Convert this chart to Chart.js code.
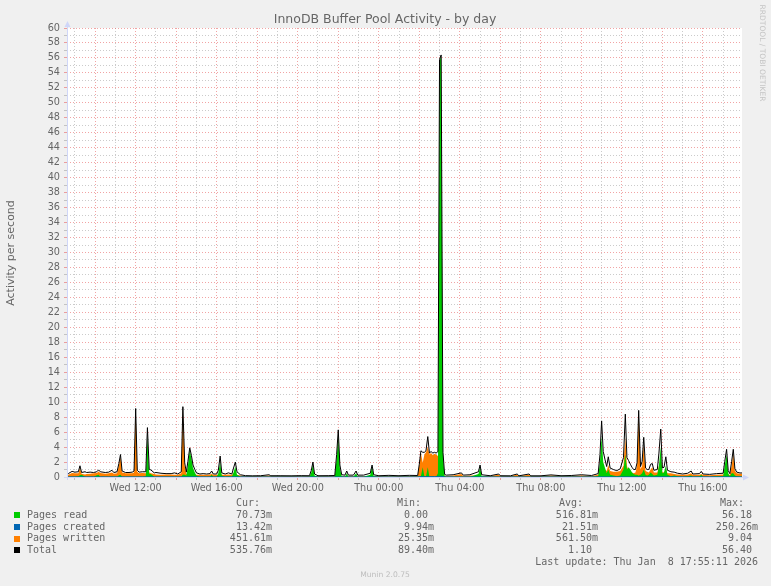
<!DOCTYPE html>
<html><head><meta charset="utf-8">
<script src="https://cdn.jsdelivr.net/npm/chart.js@4/dist/chart.umd.min.js"></script>
<style>html,body{margin:0;padding:0;background:#F0F0F0;}#wrap{width:771px;height:586px;}</style>
</head><body><div id="wrap"><canvas id="c" width="771" height="586"></canvas></div>
<script>
const TITLE = 'InnoDB Buffer Pool Activity - by day';
const Y_LABEL = 'Activity per second';
const FOOTER = 'Munin 2.0.75';
const WATERMARK = 'RRDTOOL / TOBI OETIKER';
const LAST_UPDATE = 'Last update: Thu Jan  8 17:55:11 2026';

// time in hours counted from Wed 00:00
const hours = [8.61,8.70,8.86,9.00,9.17,9.25,9.33,9.50,9.58,9.75,9.92,10.08,10.17,10.25,10.50,10.67,10.83,10.92,11.08,11.17,11.25,11.33,11.50,11.67,11.83,11.92,
12.00,12.08,12.17,12.33,12.50,12.58,12.67,12.75,12.92,13.00,13.25,13.50,13.75,13.92,14.08,14.25,14.33,14.42,14.50,14.58,14.67,14.75,14.83,14.92,
15.00,15.17,15.33,15.50,15.67,15.75,15.83,16.00,16.08,16.17,16.25,16.42,16.58,16.75,16.83,16.92,17.00,17.17,17.42,17.75,18.17,18.58,18.67,19.17,19.67,
20.17,20.58,20.67,20.75,20.83,21.00,21.50,21.83,21.92,22.00,22.08,22.17,22.33,22.42,22.50,22.75,22.88,22.96,23.25,23.58,23.67,23.75,24.00,24.50,25.00,25.50,25.92,
26.00,26.08,26.17,26.25,26.33,26.42,26.50,26.58,26.67,26.75,26.83,26.92,27.00,27.08,27.17,27.25,27.33,27.67,28.08,28.17,28.50,28.92,29.00,29.08,29.50,29.92,
30.00,30.50,30.83,30.92,31.42,31.50,32.00,32.50,33.00,33.50,34.00,34.50,34.83,34.92,35.00,35.08,35.17,35.25,35.33,35.42,35.58,35.75,35.92,
36.08,36.17,36.25,36.33,36.42,36.50,36.58,36.67,36.75,36.83,36.92,37.00,37.08,37.17,37.25,37.33,37.42,37.50,37.58,37.75,37.83,37.92,
38.00,38.08,38.17,38.25,38.42,38.58,38.75,39.00,39.25,39.42,39.50,39.83,39.92,40.00,40.33,40.67,41.00,41.08,41.17,41.25,41.33,41.42,41.50,41.58,41.67,41.83,41.93];

const pagesRead = [.02,.02,.05,.02,.10,.25,.30,.02,.02,.02,.02,.25,.30,.02,.02,.02,.02,.02,.02,.25,.30,.02,.02,.02,.02,.02,
.02,.02,.02,.02,.10,5.40,.40,.40,.02,.02,.02,.02,.02,.02,.02,.02,.35,.30,.20,1.50,3.60,2.50,1.20,.60,
.20,.02,.02,.02,.02,.30,.02,.02,.50,2.00,.20,.02,.10,.02,.60,1.40,.30,.02,.02,.02,.02,.05,.02,.02,.02,
.02,.02,.60,1.70,.20,.02,.02,.02,2.50,5.50,1.20,.10,.02,.50,.02,.02,.50,.02,.02,.30,1.40,.10,.02,.02,.02,.02,.02,
.02,.10,1.30,.10,.02,1.30,.02,.02,.10,.02,.02,.50,55.60,56.18,3.00,.10,.02,.02,.02,.02,.02,.40,1.30,.10,.02,.02,
.02,.02,.02,.02,.02,.02,.02,.02,.02,.02,.02,.02,.10,2.00,5.40,2.00,1.20,.50,1.00,.30,.20,.10,.20,
1.00,3.00,1.00,1.30,1.00,.60,.40,.30,.30,.20,.30,.50,1.00,.30,.20,.30,.60,.40,.20,.30,1.50,4.00,
.50,.60,1.50,.30,.10,.20,.10,.02,.10,.20,.02,.10,.30,.02,.02,.10,.10,1.50,3.00,.50,.10,.50,.50,.20,.10,.07,.07];

const pagesCreated = [.02,.02,.02,.02,.02,.02,.02,.02,.02,.02,.02,.02,.02,.02,.02,.02,.02,.02,.02,.02,.02,.02,.02,.02,.02,.02,
.02,.02,.02,.02,.02,.02,.02,.02,.02,.02,.02,.02,.02,.02,.02,.02,.02,.02,.02,.02,.02,.02,.02,.02,
.02,.02,.02,.02,.02,.02,.02,.02,.02,.02,.02,.02,.02,.02,.02,.02,.02,.02,.02,.01,.01,.01,.01,.01,.01,
.01,.01,.01,.01,.01,.01,.01,.01,.01,.01,.01,.01,.01,.01,.01,.01,.01,.01,.01,.01,.01,.01,.01,.01,.01,.01,.01,
.05,.05,.05,.05,.05,.05,.05,.05,.05,.05,.05,.05,.10,.10,.05,.02,.01,.01,.01,.01,.01,.01,.01,.01,.01,.01,
.01,.01,.01,.01,.01,.01,.01,.01,.01,.01,.01,.01,.01,.02,.02,.02,.02,.02,.02,.02,.02,.02,.02,
.02,.02,.02,.02,.02,.02,.02,.02,.02,.02,.02,.02,.02,.02,.02,.02,.02,.02,.02,.02,.02,.02,
.02,.02,.02,.02,.02,.02,.02,.02,.02,.02,.02,.02,.02,.02,.02,.02,.02,.02,.02,.02,.02,.02,.02,.02,.02,.013,.013];

const pagesWritten = [.15,.35,.55,.50,.50,1.20,.45,.35,.40,.45,.50,.55,.75,.55,.45,.50,.60,.45,.50,1.50,2.60,.60,.50,.50,.50,.60,
9.00,.70,.50,.55,.50,1.00,.60,.50,.40,.35,.30,.35,.35,.30,.30,.50,9.00,1.50,.40,.50,.20,.30,.30,.30,
.30,.30,.30,.30,.35,.45,.30,.30,.30,.60,.30,.30,.35,.30,.50,.50,.30,.20,.12,.12,.12,.20,.12,.13,.12,
.13,.12,.20,.20,.15,.12,.13,.13,.30,.60,.30,.15,.15,.20,.15,.15,.20,.15,.15,.15,.15,.15,.12,.15,.12,.15,.15,
1.50,3.20,1.90,3.00,3.30,4.00,3.00,3.20,2.90,3.10,3.00,2.80,.10,.10,.20,.20,.15,.20,.40,.15,.20,.20,.20,.15,.12,.30,
.12,.12,.30,.12,.30,.12,.12,.20,.13,.15,.20,.15,.30,.80,2.00,1.30,1.00,.80,1.60,.80,.70,.70,.80,
1.50,5.30,1.50,.80,.60,.60,.50,.60,1.50,8.60,1.00,1.50,4.20,.80,.70,.60,1.00,1.30,.60,.60,1.50,2.30,
.60,.60,1.10,.50,.50,.40,.35,.30,.35,.50,.30,.30,.40,.30,.25,.30,.35,.50,.60,.30,.30,1.50,3.10,.80,.50,.45,.45];

const total = [.25,.50,.75,.65,.70,1.50,.60,.70,.60,.65,.60,.70,.95,.70,.60,.65,.90,.60,.70,1.80,3.00,.80,.60,.60,.65,.80,
9.15,.90,.65,.70,.70,6.60,1.00,.95,.55,.60,.50,.45,.45,.55,.40,.70,9.40,1.90,.65,2.10,3.90,2.90,1.60,1.00,
.55,.40,.45,.40,.45,.80,.40,.40,.90,2.80,.55,.40,.55,.40,1.20,2.00,.70,.30,.18,.16,.17,.30,.17,.17,.16,
.18,.17,.90,2.00,.40,.17,.18,.20,3.00,6.30,1.60,.30,.25,.80,.25,.25,.80,.25,.25,.50,1.60,.30,.17,.22,.17,.22,.20,
1.70,3.50,3.30,3.30,3.50,5.40,3.20,3.40,3.20,3.30,3.20,3.40,55.80,56.40,3.30,.35,.25,.30,.55,.25,.30,.70,1.60,.30,.17,.40,
.17,.16,.40,.16,.40,.16,.16,.28,.17,.20,.30,.20,.45,3.00,7.50,3.40,2.30,1.40,2.70,1.20,1.00,.85,1.10,
2.60,8.40,2.60,2.20,1.70,1.30,1.00,1.00,1.90,8.90,1.40,2.10,5.30,1.20,1.00,1.00,1.70,1.80,.90,1.00,3.20,6.40,
1.20,1.30,2.70,.90,.70,.65,.50,.40,.50,.80,.40,.45,.75,.40,.35,.45,.50,2.10,3.70,.85,.45,2.10,3.70,1.10,.65,.54,.54];

const xTickHours = [12,16,20,24,28,32,36,40];
const xTickText = ['Wed 12:00','Wed 16:00','Wed 20:00','Thu 00:00','Thu 04:00','Thu 08:00','Thu 12:00','Thu 16:00'];
const seriesNames = ['Pages read','Pages created','Pages written','Total'];
const seriesColors = ['#00CC00','#0066B3','#FF8000','#000000'];
const curVals = ['70.73m','13.42m','451.61m','535.76m'];
const minVals = ['0.00 ','9.94m','25.35m','89.40m'];
const avgVals = ['516.81m','21.51m','561.50m','1.10 '];
const maxVals = ['56.18 ','250.26m','9.04 ','56.40 '];

const X_MIN = 8.61, X_MAX = 41.93;
const MAJOR = 'rgba(230,90,90,0.55)';
const MINOR = 'rgba(140,140,140,0.45)';
const AXIS = '#CFD6F8';
const FONT = '#666666';

const pts = arr => arr.map((v, i) => ({x: hours[i], y: v}));

const munin = {
  id: 'munin',
  beforeDraw(chart) {
    const {ctx, chartArea: a} = chart;
    ctx.save();
    ctx.fillStyle = '#F0F0F0';
    ctx.fillRect(0, 0, chart.width, chart.height);
    ctx.fillStyle = '#FFFFFF';
    ctx.fillRect(a.left, a.top, a.right - a.left, a.bottom - a.top);
    ctx.restore();
  },
  beforeDatasetsDraw(chart) {
    const {ctx, chartArea: a} = chart;
    ctx.save();
    ctx.strokeStyle = AXIS; ctx.lineWidth = 1;
    ctx.beginPath();
    ctx.moveTo(a.left - 3, a.bottom + 0.5); ctx.lineTo(a.right + 2, a.bottom + 0.5);
    ctx.stroke();
    ctx.restore();
  },
  afterDraw(chart) {
    const {ctx, chartArea: a} = chart;
    ctx.save();
    // y axis with arrows
    ctx.strokeStyle = AXIS; ctx.fillStyle = AXIS; ctx.lineWidth = 1;
    ctx.beginPath();
    ctx.moveTo(a.left + 0.5, a.bottom + 3); ctx.lineTo(a.left + 0.5, a.top - 4);
    ctx.stroke();
    ctx.beginPath();
    ctx.moveTo(a.left - 2.5, a.top - 1); ctx.lineTo(a.left + 3.5, a.top - 1); ctx.lineTo(a.left + 0.5, a.top - 7); ctx.closePath(); ctx.fill();
    ctx.beginPath();
    ctx.moveTo(a.right + 1, a.bottom - 2.5); ctx.lineTo(a.right + 1, a.bottom + 3.5); ctx.lineTo(a.right + 7, a.bottom + 0.5); ctx.closePath(); ctx.fill();

    // title
    ctx.fillStyle = FONT;
    ctx.font = '12.5px "DejaVu Sans"';
    ctx.textAlign = 'center'; ctx.textBaseline = 'alphabetic';
    ctx.fillText(TITLE, 385, 22.5);

    // vertical label
    ctx.save();
    ctx.translate(11, 253);
    ctx.rotate(-Math.PI / 2);
    ctx.font = '11px "DejaVu Sans"';
    ctx.textAlign = 'center'; ctx.textBaseline = 'middle';
    ctx.fillText(Y_LABEL, 0, 0);
    ctx.restore();

    // watermark
    ctx.save();
    ctx.translate(762, 53);
    ctx.rotate(Math.PI / 2);
    ctx.font = '7px "DejaVu Sans"';
    const ww = ctx.measureText(WATERMARK).width;
    const fs = 7 * 97 / ww;
    ctx.font = fs.toFixed(2) + 'px "DejaVu Sans"';
    ctx.fillStyle = '#C4C4C4';
    ctx.textAlign = 'center'; ctx.textBaseline = 'middle';
    ctx.fillText(WATERMARK, 0, 0);
    ctx.restore();

    // legend table
    ctx.font = '10px "DejaVu Sans Mono"';
    ctx.textBaseline = 'middle'; ctx.textAlign = 'left';
    ctx.fillStyle = FONT;
    const headY = 503.3;
    ctx.fillText('Cur:', 236, headY);
    ctx.fillText('Min:', 397, headY);
    ctx.fillText('Avg:', 559, headY);
    ctx.fillText('Max:', 720, headY);
    const rowY = [515, 527, 538.7, 550.4];
    const cols = [[curVals, 272], [minVals, 434], [avgVals, 598], [maxVals, 758]];
    seriesNames.forEach((name, i) => {
      const y = rowY[i];
      ctx.fillStyle = seriesColors[i];
      ctx.fillRect(14, Math.round(y) - 3, 6, 6);
      ctx.fillStyle = FONT;
      ctx.fillText(name, 27, y);
      cols.forEach(([vals, right]) => {
        const s = vals[i];
        ctx.fillText(s, right - ctx.measureText(s).width, y);
      });
    });
    ctx.fillText(LAST_UPDATE, 758 - ctx.measureText(LAST_UPDATE).width, 562.7);

    // footer
    ctx.font = '7.6px "DejaVu Sans"';
    ctx.fillStyle = '#BDBDBD';
    ctx.textAlign = 'center';
    ctx.fillText(FOOTER, 385, 575.5);
    ctx.restore();
  }
};

const gridColor = ctx => (ctx.tick && Math.round(ctx.tick.value) % 2 === 0) ? MAJOR : MINOR;

new Chart(document.getElementById('c'), {
  type: 'line',
  data: {
    datasets: [
      {label: seriesNames[0], data: pts(pagesRead), fill: 'origin', order: 2,
       backgroundColor: seriesColors[0], borderColor: 'rgba(0,0,0,0)', borderWidth: 1},
      {label: seriesNames[1], data: pts(pagesCreated), fill: false, order: 1,
       borderColor: seriesColors[1], borderWidth: 1},
      {label: seriesNames[2], data: pts(pagesWritten), fill: 'origin', order: 3,
       backgroundColor: seriesColors[2], borderColor: 'rgba(0,0,0,0)', borderWidth: 1},
      {label: seriesNames[3], data: pts(total), fill: false, order: 0,
       borderColor: seriesColors[3], borderWidth: 1}
    ]
  },
  options: {
    responsive: false, animation: false, devicePixelRatio: 1,
    layout: {padding: {left: 0, right: 29, top: 28, bottom: 0}},
    elements: {point: {radius: 0, hoverRadius: 0}, line: {tension: 0, borderJoinStyle: 'bevel'}},
    plugins: {legend: {display: false}, tooltip: {enabled: false}, title: {display: false}},
    scales: {
      x: {
        type: 'linear', min: X_MIN, max: X_MAX,
        afterBuildTicks: s => {
          const t = [];
          for (let h = Math.ceil(X_MIN); h <= Math.floor(X_MAX); h++) t.push({value: h});
          s.ticks = t;
        },
        afterFit: s => { s.height = 109; },
        ticks: {
          autoSkip: false, maxRotation: 0, padding: 3, color: FONT,
          font: {family: 'DejaVu Sans', size: 9.7},
          callback: v => { const k = xTickHours.indexOf(Math.round(v)); return k >= 0 ? xTickText[k] : ''; }
        },
        grid: {color: gridColor, tickColor: gridColor, tickLength: 3, lineWidth: 1},
        border: {display: false, dash: [1, 2]}
      },
      y: {
        type: 'linear', min: 0, max: 60,
        afterBuildTicks: s => {
          const t = [];
          for (let v = 0; v <= 60; v++) t.push({value: v});
          s.ticks = t;
        },
        afterFit: s => { s.width = 67; },
        ticks: {
          autoSkip: false, padding: 4, color: FONT,
          font: {family: 'DejaVu Sans', size: 9.7},
          callback: v => (Math.round(v) % 2 === 0 ? String(v) : '')
        },
        grid: {color: gridColor, tickColor: gridColor, tickLength: 3, lineWidth: 1},
        border: {display: false, dash: [1, 2]}
      }
    }
  },
  plugins: [munin]
});
</script>
</body></html>
